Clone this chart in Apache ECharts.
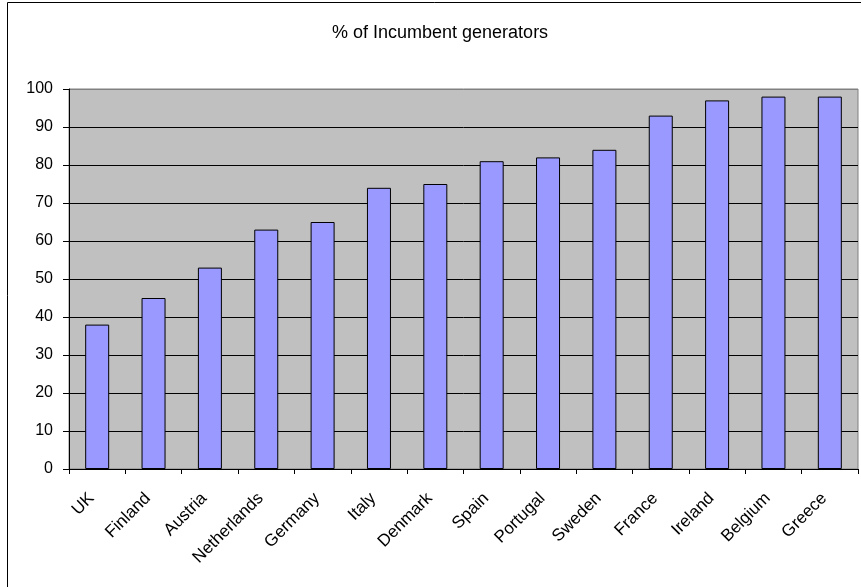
<!DOCTYPE html>
<html>
<head>
<meta charset="utf-8">
<script src="https://cdn.jsdelivr.net/npm/echarts@6/dist/echarts.min.js"></script>
<style>
  html, body { margin: 0; padding: 0; background: #fff; }
  #chart { width: 861px; height: 587px; }
</style>
</head>
<body>
<div id="chart"></div>
<script>
// values
var countries = ['UK', 'Finland', 'Austria', 'Netherlands', 'Germany', 'Italy', 'Denmark',
  'Spain', 'Portugal', 'Sweden', 'France', 'Ireland', 'Belgium', 'Greece'];
var incumbentShare = [38, 45, 53, 63, 65, 74, 75, 81, 82, 84, 93, 97, 98, 98];
var chartTitle = '% of Incumbent generators';

var font = '"Liberation Sans", Arial, sans-serif';

// split lines: black, the top one (100) grey like the plot frame
var splitColors = [];
for (var i = 0; i < 10; i++) splitColors.push('#000');
splitColors.push('#808080');

var chart = echarts.init(document.getElementById('chart'));
chart.setOption({
  animation: false,
  title: {
    text: chartTitle,
    left: 327,
    top: 19,
    textStyle: { fontFamily: font, fontSize: 18, fontWeight: 'normal', color: '#000' }
  },
  graphic: [{
    type: 'rect',
    shape: { x: 7.5, y: 2.5, width: 900, height: 700 },
    style: { fill: 'none', stroke: '#000', lineWidth: 1 },
    silent: true
  }],
  grid: {
    left: 69,
    right: 3,
    top: 89,
    bottom: 118,
    show: true,
    backgroundColor: '#c0c0c0',
    borderColor: '#808080',
    borderWidth: 1
  },
  xAxis: {
    type: 'category',
    data: countries,
    axisLine: { lineStyle: { color: '#000', width: 1 } },
    axisTick: { show: true, length: 5, lineStyle: { color: '#000' } },
    axisLabel: {
      rotate: 45,
      interval: 0,
      margin: 21,
      padding: [0, 8, 0, 0],
      color: '#000',
      fontFamily: font,
      fontSize: 17
    },
    splitLine: { show: false }
  },
  yAxis: {
    type: 'value',
    min: 0,
    max: 100,
    interval: 10,
    axisLine: { show: true, lineStyle: { color: '#000', width: 1 } },
    axisTick: { show: true, length: 6, lineStyle: { color: '#000' } },
    axisLabel: { color: '#000', fontFamily: font, fontSize: 16, margin: 16 },
    splitLine: { show: true, lineStyle: { color: splitColors, width: 1 } }
  },
  series: [{
    type: 'bar',
    data: incumbentShare,
    barWidth: 24,
    itemStyle: { color: '#9999ff', borderColor: '#000', borderWidth: 1 }
  }]
});
</script>
</body>
</html>
